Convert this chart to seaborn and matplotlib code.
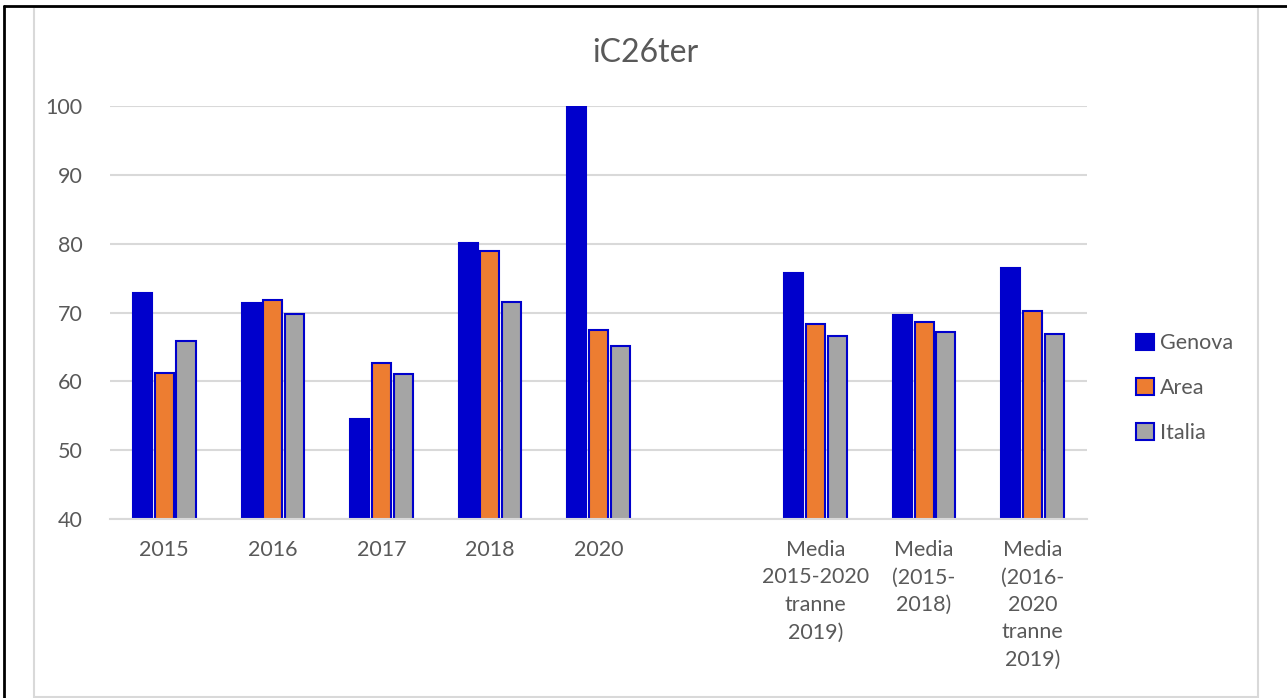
import numpy as np
import pandas as pd
import matplotlib
matplotlib.use("Agg")
import matplotlib.pyplot as plt
import matplotlib.patches as mpatches
from matplotlib.lines import Line2D
import seaborn as sns

# dati
categorie = ["2015", "2016", "2017", "2018", "2020",
             "Media\n2015-2020\ntranne\n2019)",
             "Media\n(2015-\n2018)",
             "Media\n(2016-\n2020\ntranne\n2019)"]
genova = [72.8, 71.4, 54.6, 80.1, 100.0, 75.8, 69.7, 76.5]
area   = [61.2, 71.8, 62.7, 78.9, 67.4, 68.3, 68.6, 70.2]
italia = [65.9, 69.8, 61.0, 71.6, 65.1, 66.6, 67.1, 66.9]
serie  = ["Genova", "Area", "Italia"]

BLU    = "#0000CC"
ARANCIO = "#ED7D31"
GRIGIO = "#A5A5A5"
TESTO  = "#595959"
LINEA  = "#D9D9D9"

# slot vuoto tra gli anni e le medie
ordine = categorie[:5] + [""] + categorie[5:]

df = pd.DataFrame({
    "categoria": categorie * 3,
    "serie": sum([[s] * len(categorie) for s in serie], []),
    "valore": genova + area + italia,
})

sns.set_style("white")
plt.rcParams["font.family"] = ["Lato", "DejaVu Sans"]

fig = plt.figure(figsize=(12.87, 6.98), dpi=100)
ax = fig.add_axes([0.0855, 0.2564, 0.759, 0.5917])

sns.barplot(data=df, x="categoria", y="valore", hue="serie", order=ordine,
            hue_order=serie, palette=[BLU, ARANCIO, GRIGIO], width=0.6, gap=0.12,
            saturation=1, errorbar=None, legend=False, ax=ax)
for cont in ax.containers:
    for p in cont:
        p.set_edgecolor(BLU)
        p.set_linewidth(1.5)

ax.set_ylim(40, 100)
ax.set_yticks(range(40, 101, 10))
ax.yaxis.grid(True, color=LINEA, linewidth=1.5)
ax.set_axisbelow(True)
for s in ["top", "right", "left"]:
    ax.spines[s].set_visible(False)
ax.spines["bottom"].set_color(LINEA)
ax.spines["bottom"].set_linewidth(1.5)
ax.tick_params(axis="both", length=0, labelsize=15.5, labelcolor=TESTO)
ax.tick_params(axis="x", pad=15)
ax.tick_params(axis="y", pad=20)
for t in ax.get_xticklabels():
    t.set_ha("center")
    t.set_va("top")
    t.set_linespacing(1.47)
ax.set_xlabel("")
ax.set_ylabel("")

fig.text(0.5013, 0.924, "iC26ter", ha="center", va="center", fontsize=23, color=TESTO)

handles = [mpatches.Patch(facecolor=c, edgecolor=BLU, linewidth=1.5, label=s)
           for c, s in zip([BLU, ARANCIO, GRIGIO], serie)]
fig.legend(handles=handles, loc="center left", bbox_to_anchor=(0.868, 0.444),
           frameon=False, fontsize=15.5, labelcolor=TESTO, handlelength=0.8,
           handleheight=0.8, handletextpad=0.3, labelspacing=1.15)

# cornice
fig.add_artist(mpatches.Rectangle((34 / 1287, 1 / 698), 1224 / 1287, 690 / 698,
                                  transform=fig.transFigure, fill=False,
                                  edgecolor=LINEA, linewidth=1.5))
fig.add_artist(Line2D([4 / 1287, 4 / 1287], [0, 1 - 6 / 698], transform=fig.transFigure,
                      color="black", linewidth=2))
fig.add_artist(Line2D([4 / 1287, 1], [1 - 6 / 698, 1 - 6 / 698], transform=fig.transFigure,
                      color="black", linewidth=2))

fig.savefig("out.png", dpi=100)
